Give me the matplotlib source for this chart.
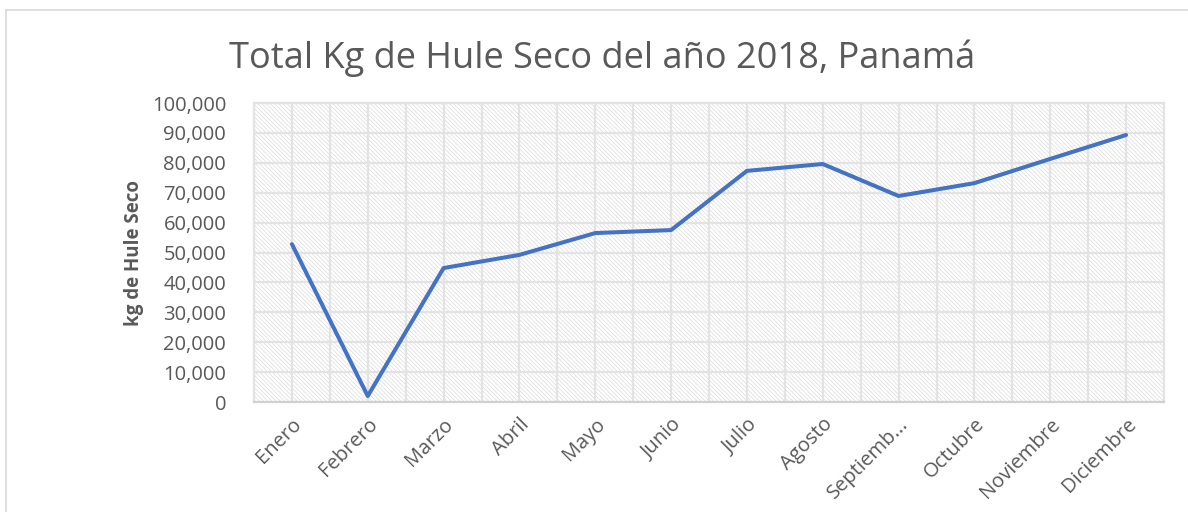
import matplotlib
matplotlib.use("Agg")
import matplotlib.pyplot as plt
from matplotlib.lines import Line2D
from matplotlib.patches import Rectangle
from matplotlib.ticker import FuncFormatter, MultipleLocator
import numpy as np

months = ["Enero", "Febrero", "Marzo", "Abril", "Mayo", "Junio", "Julio",
          "Agosto", "Septiemb...", "Octubre", "Noviembre", "Diciembre"]
kg_hule = [52800, 2000, 44800, 49200, 56500, 57500, 77300,
           79600, 68900, 73200, 81300, 89300]
y_ticks = [0, 10000, 20000, 30000, 40000, 50000, 60000, 70000, 80000, 90000, 100000]

plt.rcParams["font.family"] = ["Open Sans", "DejaVu Sans"]
plt.rcParams["hatch.linewidth"] = 0.5

text_gray = "#595959"
grid_gray = "#e3e3e3"

fig = plt.figure(figsize=(11.88, 5.12), dpi=100)
ax = fig.add_axes([254 / 1188, 1 - 402 / 512, 910 / 1188, 299 / 512])

x = np.arange(len(months))
ax.set_xlim(-0.5, len(months) - 0.5)
ax.set_ylim(0, 100000)

# hatched plot area like the Excel pattern fill
ax.add_patch(Rectangle((0, 0), 1, 1, transform=ax.transAxes, facecolor="white",
                       edgecolor="#dcdcdc", lw=0, hatch="\\" * 8, zorder=0))

ax.set_yticks(y_ticks)
ax.yaxis.set_major_formatter(FuncFormatter(lambda v, _: f"{int(v):,}"))
ax.set_xticks(x)
ax.set_xticklabels(months, rotation=45, ha="right", rotation_mode="anchor")
ax.xaxis.set_minor_locator(MultipleLocator(0.5))

ax.grid(True, which="major", axis="y", color=grid_gray, lw=1.6, zorder=1)
ax.grid(True, which="both", axis="x", color=grid_gray, lw=1.6, zorder=1)
ax.set_axisbelow(True)

ax.plot(x, kg_hule, color="#4472C4", lw=2.9, solid_capstyle="round",
        solid_joinstyle="round", zorder=3)

for side in ["top", "right", "left"]:
    ax.spines[side].set_color(grid_gray)
    ax.spines[side].set_linewidth(1.6)
ax.spines["bottom"].set_color("#d0d0d0")
ax.spines["bottom"].set_linewidth(1.6)

ax.tick_params(axis="both", which="both", length=0, colors=text_gray, labelsize=14.5)
ax.tick_params(axis="y", pad=20)
ax.tick_params(axis="x", pad=9)

ax.set_ylabel("kg de Hule Seco", fontsize=13.5, fontweight="bold", color=text_gray, labelpad=6)
fig.text(602 / 1188, 1 - 58 / 512, "Total Kg de Hule Seco del año 2018, Panamá",
         ha="center", va="center", fontsize=26, color=text_gray)

# outer chart-area border
fig.add_artist(Line2D([6 / 1188, 1], [1 - 10 / 512, 1 - 10 / 512], transform=fig.transFigure,
                      color="#d9d9d9", lw=1.2))
fig.add_artist(Line2D([6 / 1188, 6 / 1188], [0, 1 - 10 / 512], transform=fig.transFigure,
                      color="#d9d9d9", lw=1.2))

fig.savefig("out.png", dpi=100, facecolor="white")
